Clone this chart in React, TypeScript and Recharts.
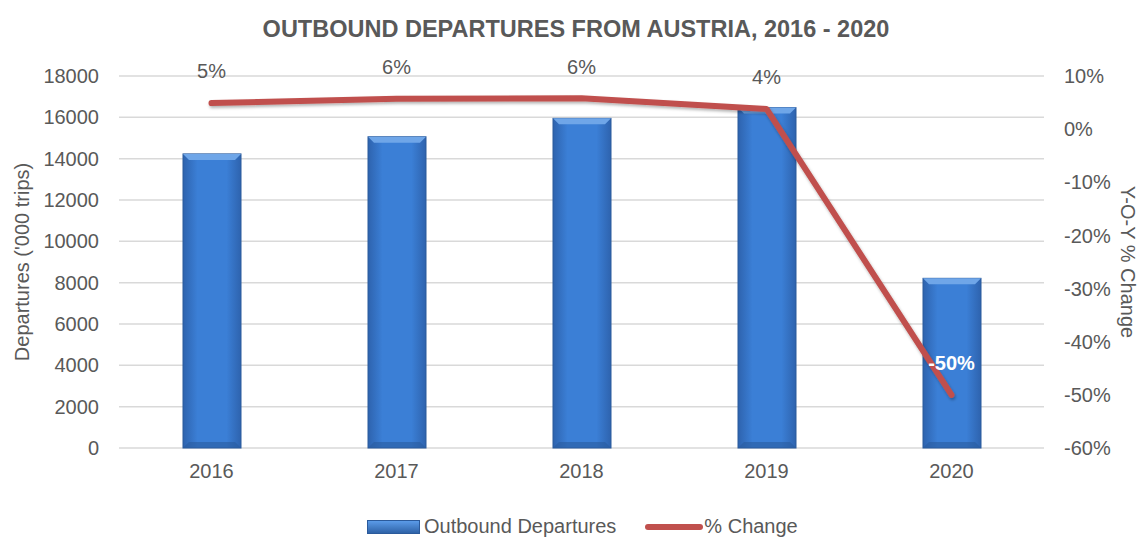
import React from "react";
import {
  ComposedChart,
  Bar,
  Line,
  XAxis,
  YAxis,
  CartesianGrid,
  LabelList,
} from "recharts";

const years = ["2016", "2017", "2018", "2019", "2020"];
const departures = [14230, 15060, 15950, 16470, 8210];
const pctChange = [4.9, 5.7, 5.8, 3.8, -50];
const leftTicks = [0, 2000, 4000, 6000, 8000, 10000, 12000, 14000, 16000, 18000];
const rightTicks = [-60, -50, -40, -30, -20, -10, 0, 10];

const FONT = '"Liberation Sans", Arial, sans-serif';
const GREY = "#595959";

const data = years.map((year, i) => ({
  year,
  departures: departures[i],
  change: pctChange[i],
}));

// bevelled blue bar like the office chart style
function BevelBar(props: any) {
  const { x, y, width, height } = props;
  if (!height || height <= 0) return null;
  const b = 6;
  return (
    <g>
      <rect x={x} y={y} width={width} height={height} fill="url(#barGrad)" stroke="#2B5A9B" strokeWidth={1} />
      <polygon
        points={`${x},${y} ${x + width},${y} ${x + width - b},${y + b} ${x + b},${y + b}`}
        fill="#6FA6E8"
      />
      <polygon
        points={`${x},${y + height} ${x + width},${y + height} ${x + width - b},${y + height - b} ${x + b},${y + height - b}`}
        fill="#2A5C9E"
        opacity={0.6}
      />
    </g>
  );
}

function ChangeLabel(props: any) {
  const { x, y, value, index } = props;
  const last = index === pctChange.length - 1;
  return (
    <text
      x={x}
      y={y - 30}
      textAnchor="middle"
      dominantBaseline="middle"
      fontFamily={FONT}
      fontSize={20}
      fontWeight={last ? 700 : 400}
      fill={last ? "#FFFFFF" : GREY}
    >
      {`${Math.round(value)}%`}
    </text>
  );
}

export default function App() {
  const tick = { fill: GREY, fontSize: 20, fontFamily: FONT };
  return (
    <div style={{ position: "absolute", left: 0, top: 0, width: 1142, height: 540, background: "#fff" }}>
      <div
        style={{
          position: "absolute",
          top: 16,
          width: 1152,
          textAlign: "center",
          fontFamily: FONT,
          fontWeight: 700,
          fontSize: 23.5,
          color: GREY,
        }}
      >
        OUTBOUND DEPARTURES FROM AUSTRIA, 2016 - 2020
      </div>
      <ComposedChart
        width={1142}
        height={540}
        data={data}
        margin={{ top: 76, right: 0, bottom: 62, left: 0 }}
      >
        <defs>
          <linearGradient id="barGrad" x1="0" y1="0" x2="1" y2="0">
            <stop offset="0%" stopColor="#2E63AE" />
            <stop offset="25%" stopColor="#3B7FD6" />
            <stop offset="75%" stopColor="#3B7FD6" />
            <stop offset="100%" stopColor="#2E63AE" />
          </linearGradient>
          <filter id="lineShadow" x="-10%" y="-10%" width="120%" height="130%">
            <feDropShadow dx="1" dy="2" stdDeviation="1.5" floodColor="#000" floodOpacity="0.3" />
          </filter>
        </defs>
        <CartesianGrid yAxisId="left" vertical={false} stroke="#D9D9D9" strokeWidth={1.5} />
        <XAxis
          dataKey="year"
          tick={tick}
          tickLine={false}
          axisLine={false}
          tickSize={0}
          tickMargin={16}
        />
        <YAxis
          yAxisId="left"
          orientation="left"
          width={119}
          domain={[0, 18000]}
          ticks={leftTicks}
          interval={0}
          tick={tick}
          tickLine={false}
          axisLine={false}
          tickSize={0}
          tickMargin={20}
          label={{
            value: "Departures ('000 trips)",
            angle: -90,
            position: "insideLeft",
            offset: 22,
            style: { textAnchor: "middle", fill: GREY, fontSize: 20, fontFamily: FONT },
          }}
        />
        <YAxis
          yAxisId="right"
          orientation="right"
          width={98}
          domain={[-60, 10]}
          ticks={rightTicks}
          interval={0}
          tickFormatter={(v: number) => `${v}%`}
          tick={tick}
          tickLine={false}
          axisLine={false}
          tickSize={0}
          tickMargin={20}
          label={{
            value: "Y-O-Y % Change",
            angle: 90,
            position: "insideRight",
            offset: 14,
            style: { textAnchor: "middle", fill: GREY, fontSize: 20, fontFamily: FONT },
          }}
        />
        <Bar
          yAxisId="left"
          dataKey="departures"
          barSize={58}
          shape={<BevelBar />}
          isAnimationActive={false}
        />
        <Line
          yAxisId="right"
          dataKey="change"
          stroke="#C0504D"
          strokeWidth={6}
          strokeLinecap="round"
          strokeLinejoin="round"
          dot={false}
          activeDot={false}
          filter="url(#lineShadow)"
          isAnimationActive={false}
        >
          <LabelList dataKey="change" content={<ChangeLabel />} />
        </Line>
      </ComposedChart>
      <div
        style={{
          position: "absolute",
          top: 515,
          left: 367,
          display: "flex",
          alignItems: "center",
          fontFamily: FONT,
          fontSize: 20,
          color: GREY,
          whiteSpace: "nowrap",
        }}
      >
        <span
          style={{
            display: "inline-block",
            width: 51,
            height: 12,
            background: "linear-gradient(#5B9BE8, #2F63A8)",
            border: "1px solid #2B5A9B",
            marginRight: 4,
          }}
        />
        <span>Outbound Departures</span>
        <span
          style={{
            display: "inline-block",
            width: 58,
            height: 6,
            borderRadius: 3,
            background: "#C0504D",
            marginLeft: 29,
            marginRight: 1,
          }}
        />
        <span>% Change</span>
      </div>
    </div>
  );
}
